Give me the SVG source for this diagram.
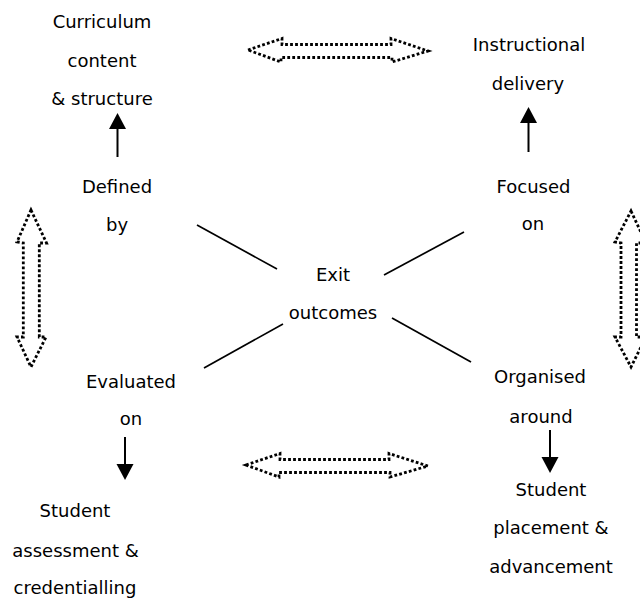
<svg xmlns="http://www.w3.org/2000/svg" width="640" height="598" viewBox="0 0 640 598">
  <style>
    text { font-family: "DejaVu Sans", "Liberation Sans", sans-serif; font-size: 18px; fill: #000; text-anchor: middle; }
    .link { stroke: #000; stroke-width: 1.7; fill: none; }
    .shaft { stroke: #000; stroke-width: 2; fill: none; }
    .head { fill: #000; }
    .dual { fill: none; stroke: #000; stroke-width: 2.8; stroke-dasharray: 2.8 2.2; }
  </style>
  <rect width="640" height="598" fill="#fff"/>

  <g id="connectors">
    <!-- spokes from the centre -->
    <line class="link" x1="197" y1="225" x2="277" y2="269"/>
    <line class="link" x1="384" y1="275" x2="464" y2="232"/>
    <line class="link" x1="283" y1="324" x2="204" y2="368"/>
    <line class="link" x1="392" y1="318" x2="471" y2="362"/>

    <!-- solid single arrows -->
    <line class="shaft" x1="117.5" y1="157" x2="117.5" y2="126"/>
    <polygon class="head" points="117.5,113 126,129 109,129"/>
    <line class="shaft" x1="528.5" y1="152" x2="528.5" y2="121"/>
    <polygon class="head" points="528.5,107 537,123 520,123"/>
    <line class="shaft" x1="125" y1="437" x2="125" y2="467"/>
    <polygon class="head" points="125,480 133.5,464 116.5,464"/>
    <line class="shaft" x1="550" y1="430" x2="550" y2="460"/>
    <polygon class="head" points="550,473 558.5,457 541.5,457"/>

    <!-- dotted double arrows -->
    <polygon class="dual" points="248,50 282,38.5 282,44.5 391,44.5 391,38.5 428,51 392,62 392,57.5 281,57.5 281,62"/>
    <polygon class="dual" points="246,465 280,453.5 280,459.5 389,459.5 389,453.5 428,466 390,477 390,472.5 279,472.5 279,477"/>
    <polygon class="dual" points="31,210 46.5,243 39.3,243 39.3,337 46,337 31,367 17,337 23.3,337 23.3,243 17,242"/>
    <polygon class="dual" points="631,211 646,243 636.5,243 636.5,337 646,337 631,367 615,337 621,337 621,243 615,242"/>
  </g>

  <g id="curriculum">
    <text x="102" y="28">Curriculum</text>
    <text x="102" y="67">content</text>
    <text x="102" y="105">&amp; structure</text>
  </g>
  <g id="defined-by">
    <text x="117" y="193">Defined</text>
    <text x="117" y="231">by</text>
  </g>
  <g id="instruction">
    <text x="529" y="51">Instructional</text>
    <text x="528" y="90">delivery</text>
  </g>
  <g id="focused-on">
    <text x="533.5" y="193">Focused</text>
    <text x="533" y="230">on</text>
  </g>
  <g id="exit-outcomes">
    <text x="333" y="281">Exit</text>
    <text x="333" y="319">outcomes</text>
  </g>
  <g id="evaluated-on">
    <text x="131" y="388">Evaluated</text>
    <text x="131" y="425">on</text>
  </g>
  <g id="assessment">
    <text x="75" y="517">Student</text>
    <text x="75.5" y="557">assessment &amp;</text>
    <text x="75" y="594">credentialling</text>
  </g>
  <g id="organised-around">
    <text x="540" y="383">Organised</text>
    <text x="541" y="423">around</text>
  </g>
  <g id="placement">
    <text x="551" y="496">Student</text>
    <text x="551" y="534">placement &amp;</text>
    <text x="551" y="573">advancement</text>
  </g>
</svg>
